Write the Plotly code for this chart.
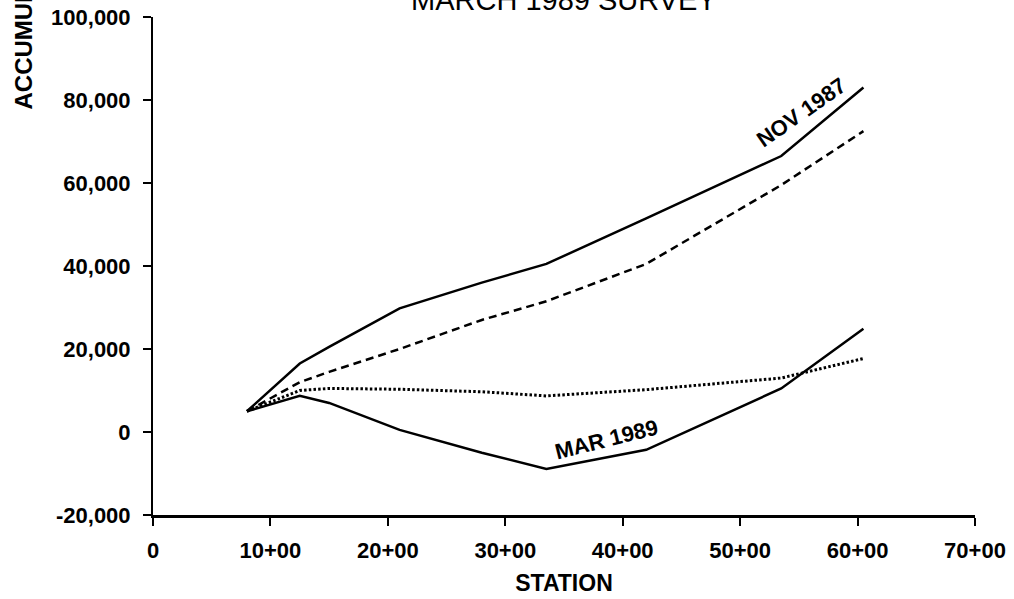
import plotly.graph_objects as go

stations = [8, 12.5, 15, 21, 28, 33.5, 42, 53.5, 60.5]
nov_1987 = [5000, 16500, 20500, 29800, 36000, 40500, 51500, 66500, 83000]
dashed_series = [5000, 12000, 14500, 20000, 27000, 31500, 40500, 59500, 72500]
dotted_series = [5000, 10000, 10500, 10300, 9700, 8700, 10200, 13000, 17700]
mar_1989 = [5000, 8700, 7000, 500, -5000, -8900, -4300, 10500, 24900]

x_tickvals = [0, 10, 20, 30, 40, 50, 60, 70]
x_ticktext = ["0", "10+00", "20+00", "30+00", "40+00", "50+00", "60+00", "70+00"]
y_tickvals = [-20000, 0, 20000, 40000, 60000, 80000, 100000]
y_ticktext = ["-20,000", "0", "20,000", "40,000", "60,000", "80,000", "100,000"]

FONT = "Liberation Sans"

fig = go.Figure()
fig.add_trace(go.Scatter(x=stations, y=nov_1987, mode="lines",
                         line=dict(color="black", width=2.5), showlegend=False))
fig.add_trace(go.Scatter(x=stations, y=dashed_series, mode="lines",
                         line=dict(color="black", width=2.5, dash="8px,5px"), showlegend=False))
fig.add_trace(go.Scatter(x=stations, y=dotted_series, mode="lines",
                         line=dict(color="black", width=3, dash="2.5px,2.2px"), showlegend=False))
fig.add_trace(go.Scatter(x=stations, y=mar_1989, mode="lines",
                         line=dict(color="black", width=2.5), showlegend=False))

fig.update_layout(
    width=1014, height=599,
    margin=dict(l=153, r=39, t=17, b=84),
    paper_bgcolor="white", plot_bgcolor="white",
    font=dict(family=FONT, color="black"),
    xaxis=dict(range=[0, 70], tickvals=x_tickvals, ticktext=x_ticktext,
               automargin=False,
               showline=True, linecolor="black", linewidth=3,
               ticks="outside", ticklen=8, tickwidth=2, tickcolor="black",
               ticklabelstandoff=6,
               showgrid=False, zeroline=False,
               tickfont=dict(family=FONT, size=22, color="black", weight="bold"),
               title=dict(text="STATION", standoff=13,
                          font=dict(family=FONT, size=23, color="black", weight="bold"))),
    yaxis=dict(range=[-20000, 100000], tickvals=y_tickvals, ticktext=y_ticktext,
               automargin=False,
               showline=True, linecolor="black", linewidth=2,
               ticks="outside", ticklen=8, tickwidth=2, tickcolor="black",
               ticklabelstandoff=8,
               showgrid=False, zeroline=False,
               tickfont=dict(family=FONT, size=22, color="black", weight="bold")),
)

fig.add_annotation(text="MARCH 1989 SURVEY", xref="paper", yref="paper",
                   x=(564 - 153) / 822, y=1 + 17 / 498, xanchor="center", yanchor="middle",
                   showarrow=False, font=dict(family=FONT, size=29, color="black"))
fig.add_annotation(text="ACCUMULATION (CU YD)", xref="paper", yref="paper",
                   x=(23 - 153) / 822, y=(515 - 112) / 498, xanchor="center", yanchor="bottom",
                   textangle=-90, showarrow=False,
                   font=dict(family=FONT, size=24, color="black", weight="bold"))
fig.add_annotation(text="NOV 1987", x=55.2, y=77000, xref="x", yref="y",
                   textangle=-35, showarrow=False,
                   font=dict(family=FONT, size=22, color="black", weight="bold"))
fig.add_annotation(text="MAR 1989", x=38.6, y=-1900, xref="x", yref="y",
                   textangle=-14, showarrow=False,
                   font=dict(family=FONT, size=22, color="black", weight="bold"))

fig.write_html("out.html", post_script="document.body.style.margin='0px';",
               config={"displayModeBar": False})
